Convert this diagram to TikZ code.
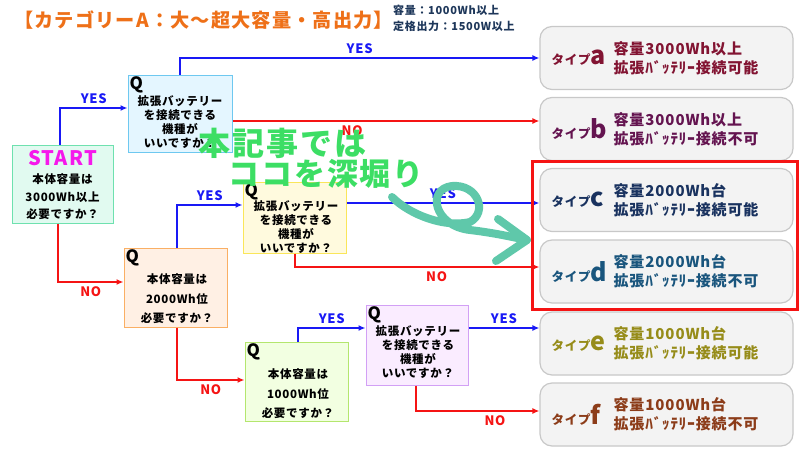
\documentclass[tikz,border=0pt]{standalone}
\usepackage{fontspec}
\setmainfont{Noto Sans CJK JP}[LetterSpace=6]
\usetikzlibrary{arrows.meta}

\definecolor{titleorange}{RGB}{238,112,24}
\definecolor{notenavy}{RGB}{30,55,90}
\definecolor{yesblue}{RGB}{25,25,245}
\definecolor{nored}{RGB}{245,20,20}
\definecolor{startmag}{RGB}{245,25,235}
\definecolor{startfill}{RGB}{225,250,240}
\definecolor{startdraw}{RGB}{110,225,175}
\definecolor{qafill}{RGB}{228,246,255}
\definecolor{qadraw}{RGB}{110,200,240}
\definecolor{qbfill}{RGB}{255,240,228}
\definecolor{qbdraw}{RGB}{250,175,100}
\definecolor{qcfill}{RGB}{255,250,222}
\definecolor{qcdraw}{RGB}{250,230,90}
\definecolor{qdfill}{RGB}{242,255,225}
\definecolor{qddraw}{RGB}{180,230,110}
\definecolor{qefill}{RGB}{250,236,255}
\definecolor{qedraw}{RGB}{210,160,245}
\definecolor{resfill}{RGB}{243,243,243}
\definecolor{resdraw}{RGB}{200,200,200}
\definecolor{typea}{RGB}{130,20,50}
\definecolor{typeb}{RGB}{100,20,80}
\definecolor{typec}{RGB}{25,50,95}
\definecolor{typed}{RGB}{25,85,125}
\definecolor{typee}{RGB}{150,140,25}
\definecolor{typef}{RGB}{140,60,25}
\definecolor{pickgreen}{RGB}{60,222,100}
\definecolor{swirl}{RGB}{95,200,170}

\newcommand\qtxtfont{\bfseries\fontsize{11.5}{14}\selectfont}
\newcommand\bigletter[1]{{\fontsize{25}{25}\selectfont #1}}

\tikzset{
  qbox/.style={rectangle, line width=1pt, minimum width=103pt},
  qmark/.style={anchor=north west, inner sep=2pt, font=\bfseries\fontsize{17}{17}\selectfont},
  qtext/.style={align=center, inner sep=0pt, font=\qtxtfont},
  resbox/.style={rectangle, rounded corners=12pt, line width=1.2pt, draw=resdraw, fill=resfill,
    minimum width=253pt, minimum height=63pt},
  typetext/.style={anchor=west, inner sep=0pt, text=#1, font=\bfseries\fontsize{12.5}{12.5}\selectfont},
  restext/.style={anchor=west, align=left, inner sep=0pt, text=#1, font=\bfseries\fontsize{15}{19}\selectfont},
  yesline/.style={draw=yesblue, line width=2pt, -{Latex[length=7pt,width=6pt]}},
  noline/.style={draw=nored, line width=2pt, -{Latex[length=7pt,width=6pt]}},
  yeslabel/.style={text=yesblue, font=\bfseries\fontsize{13}{13}\selectfont},
  nolabel/.style={text=nored, font=\bfseries\fontsize{13}{13}\selectfont}
}

\begin{document}
\begin{tikzpicture}[x=1pt,y=-1pt]
\useasboundingbox (0,0) rectangle (800,450);

% heading
\node[anchor=west, inner sep=0pt, text=titleorange, font=\bfseries\fontsize{19.2}{19.2}\selectfont] (title) at (14,20) {【カテゴリーA：大〜超大容量・高出力】};
\node[anchor=north west, inner sep=0pt, align=left, text=notenavy, font=\bfseries\fontsize{11}{16}\selectfont] (note) at (393,5) {容量：1000Wh以上\\定格出力：1500W以上};

% question boxes
\node[qbox, draw=startdraw, fill=startfill, minimum width=101pt, minimum height=78pt] (start) at (62.5,184) {};
\node[text=startmag, font=\bfseries\fontsize{20}{20}\selectfont] (startl) at (62.5,158) {START};
\node[qtext, font=\bfseries\fontsize{11.5}{17.5}\selectfont] (startt) at (62.5,197) {本体容量は\\3000Wh以上\\必要ですか？};

\node[qbox, draw=qadraw, fill=qafill, minimum width=104pt, minimum height=77pt, label={[qmark]north west:Q}] (q1) at (180,113.5) {};
\node[qtext] (q1t) at (180,122) {拡張バッテリー\\を接続できる\\機種が\\いいですか？};

\node[qbox, draw=qbdraw, fill=qbfill, minimum height=79pt, label={[qmark]north west:Q}] (q2) at (175.5,287.5) {};
\node[qtext, font=\bfseries\fontsize{11.5}{19.5}\selectfont] (q2t) at (177,299) {本体容量は\\2000Wh位\\必要ですか？};

\node[qbox, draw=qcdraw, fill=qcfill, minimum height=71pt, label={[qmark]north west:Q}] (q3) at (294.5,217.5) {};
\node[qtext] (q3t) at (296,227) {拡張バッテリー\\を接続できる\\機種が\\いいですか？};

\node[qbox, draw=qddraw, fill=qdfill, minimum height=79pt, label={[qmark]north west:Q}] (q4) at (296.5,381.5) {};
\node[qtext, font=\bfseries\fontsize{11.5}{19.5}\selectfont] (q4t) at (298,394) {本体容量は\\1000Wh位\\必要ですか？};

\node[qbox, draw=qedraw, fill=qefill, minimum width=102pt, minimum height=80pt, label={[qmark]north west:Q}] (q5) at (417,345) {};
\node[qtext] (q5t) at (418,352) {拡張バッテリー\\を接続できる\\機種が\\いいですか？};

% result boxes
\node[resbox] (ta) at (666.5,58) {};
\node[typetext=typea] (tal) at ([xshift=12pt]ta.west) {タイプ\bigletter{a}};
\node[restext=typea] (tad) at ([xshift=74pt]ta.west) {容量3000Wh以上\\拡張ﾊﾞｯﾃﾘｰ接続可能};

\node[resbox] (tb) at (666.5,129) {};
\node[typetext=typeb] (tbl) at ([xshift=12pt]tb.west) {タイプ\bigletter{b}};
\node[restext=typeb] (tbd) at ([xshift=74pt]tb.west) {容量3000Wh以上\\拡張ﾊﾞｯﾃﾘｰ接続不可};

\node[resbox] (tc) at (666.5,200) {};
\node[typetext=typec] (tcl) at ([xshift=12pt]tc.west) {タイプ\bigletter{c}};
\node[restext=typec] (tcd) at ([xshift=74pt]tc.west) {容量2000Wh台\\拡張ﾊﾞｯﾃﾘｰ接続可能};

\node[resbox] (td) at (666.5,271.5) {};
\node[typetext=typed] (tdl) at ([xshift=12pt]td.west) {タイプ\bigletter{d}};
\node[restext=typed] (tdd) at ([xshift=74pt]td.west) {容量2000Wh台\\拡張ﾊﾞｯﾃﾘｰ接続不可};

\node[resbox] (te) at (666.5,343.5) {};
\node[typetext=typee] (tel) at ([xshift=12pt]te.west) {タイプ\bigletter{e}};
\node[restext=typee] (ted) at ([xshift=74pt]te.west) {容量1000Wh台\\拡張ﾊﾞｯﾃﾘｰ接続可能};

\node[resbox] (tf) at (666.5,414.5) {};
\node[typetext=typef] (tfl) at ([xshift=12pt]tf.west) {タイプ\bigletter{f}};
\node[restext=typef] (tfd) at ([xshift=74pt]tf.west) {容量1000Wh台\\拡張ﾊﾞｯﾃﾘｰ接続不可};

% connectors
\draw[yesline] ([xshift=-2.5pt]start.north) |- node[pos=.75, above, yeslabel] {YES} ([yshift=5.5pt]q1.west);
\draw[noline] ([xshift=-4.5pt]start.south) |- node[pos=.75, below, nolabel] {NO} ([yshift=5.5pt]q2.west);
\draw[yesline] (q1.north) |- node[pos=.75, above, yeslabel] {YES} (ta.west);
\draw[noline] ([yshift=-7.5pt]q1.east) -- node[pos=.39, below, nolabel] {NO} ([yshift=-7.5pt]q1.east -| tb.west);
\draw[yesline] ([xshift=1.5pt]q2.north) |- node[pos=.75, above, yeslabel] {YES} ([yshift=12.5pt]q3.west);
\draw[noline] ([xshift=1.5pt]q2.south) |- node[pos=.75, below, nolabel] {NO} ([yshift=1.5pt]q4.west);
\draw[yesline] ([yshift=14.5pt]q3.east) -- node[pos=.5, above, yeslabel] {YES} ([yshift=14.5pt]q3.east -| tc.west);
\draw[noline] (q3.south) |- node[pos=.79, below, nolabel] {NO} ([yshift=4.5pt]td.west);
\draw[yesline] ([xshift=1.5pt]q4.north) |- node[pos=.75, above, yeslabel] {YES} ([yshift=17pt]q5.west);
\draw[yesline] ([yshift=17pt]q5.east) -- node[pos=.5, above, yeslabel] {YES} ([yshift=17pt]q5.east -| te.west);
\draw[noline] ([xshift=-1pt]q5.south) |- node[pos=.82, below, nolabel] {NO} ([yshift=3.5pt]tf.west);

% highlight
\draw[nored, line width=2.5pt] ([xshift=-7pt,yshift=6.5pt]tc.north west) rectangle ([xshift=4pt,yshift=-6pt]td.south east);

% overlay
\node[anchor=west, text=pickgreen, font=\bfseries\fontsize{32}{32}\selectfont] (pick1) at (195,143) {本記事では};
\node[anchor=west, text=pickgreen, font=\bfseries\fontsize{31}{31}\selectfont] (pick2) at (225,174) {ココを深堀り};
\draw[swirl, line width=8pt, line cap=round, line join=round]
  (392,197) .. controls (410,215) and (445,228) .. (470,222)
  .. controls (488,212) and (478,184) .. (452,186)
  .. controls (426,189) and (434,226) .. (470,230)
  .. controls (495,233) and (512,237) .. (527,240);
\draw[swirl, line width=8pt, line cap=round, line join=round] (498,219) -- (527,240) -- (496,261);
\end{tikzpicture}
\end{document}
